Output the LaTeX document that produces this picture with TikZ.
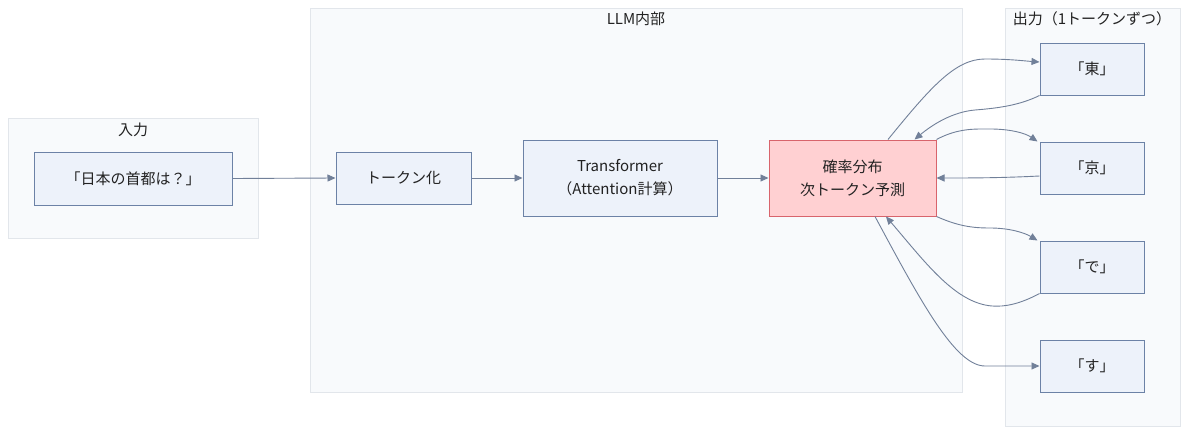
\documentclass[tikz,border=0pt]{standalone}
\usepackage{fontspec}
\setmainfont{Noto Sans CJK JP}
\usetikzlibrary{arrows.meta,calc}
\definecolor{clfill}{HTML}{F8FAFC}
\definecolor{cldraw}{HTML}{E2E6EB}
\definecolor{ndfill}{HTML}{EDF2FA}
\definecolor{nddraw}{HTML}{6C82A6}
\definecolor{pkfill}{HTML}{FFD0D2}
\definecolor{pkdraw}{HTML}{D8646C}
\definecolor{edgec}{HTML}{718099}
\definecolor{txt}{HTML}{222222}
\begin{document}
\begin{tikzpicture}[x=1pt,y=-1pt,
  cluster/.style={draw=cldraw,fill=clfill,line width=0.9pt},
  box/.style={draw=nddraw,fill=ndfill,line width=1pt,inner sep=0pt,anchor=center,text=txt,font=\fontsize{15}{23}\selectfont,align=center},
  probbox/.style={box,draw=pkdraw,fill=pkfill},
  lbl/.style={text=txt,font=\fontsize{15}{18}\selectfont,inner sep=0pt},
  conn/.style={draw=edgec,line width=0.9pt,-{Triangle[length=8pt,width=7pt]}}]
\useasboundingbox (0,0) rectangle (1200,439);
% clusters
\draw[cluster] (8,118) rectangle (258,238);
\node[lbl] (lin) at (133,130) {入力};
\draw[cluster] (310,8) rectangle (962,392);
\node[lbl] (lllm) at (636,19) {LLM内部};
\draw[cluster] (1005,8) rectangle (1180,426);
\node[lbl] (lout) at (1092,19) {出力（1トークンずつ）};
% nodes
\node[box,minimum width=198pt,minimum height=53pt] (inp) at (133,178.5) {「日本の首都は？」};
\node[box,minimum width=135pt,minimum height=52pt] (tok) at (403.5,178) {トークン化};
\node[box,minimum width=194pt,minimum height=76pt] (tr) at (620,178) {Transformer\\（Attention計算）};
\node[probbox,minimum width=167pt,minimum height=76pt] (prob) at (852.5,178) {確率分布\\次トークン予測};
\node[box,minimum width=104pt,minimum height=52pt] (dong) at (1092,69) {「東」};
\node[box,minimum width=104pt,minimum height=52pt] (jing) at (1092,168) {「京」};
\node[box,minimum width=104pt,minimum height=52pt] (de) at (1092,267) {「で」};
\node[box,minimum width=104pt,minimum height=52pt] (su) at (1092,366) {「す」};
% edges
\draw[conn] (inp.east) -- (tok.west);
\draw[conn] (tok.east) -- (tr.west);
\draw[conn] (tr.east) -- (prob.west);
\draw[conn] ($(prob.north)+(35.5,0)$) .. controls (930,88) and (955,59) .. (985,59) .. controls (1010,59) and (1025,61) .. ($(dong.west)+(0,-7)$);
\draw[conn] (dong.south west) .. controls (1020,105) and (1000,108) .. (975,110) .. controls (952,112) and (932,125) .. ($(prob.north)+(62,0)$);
\draw[conn] (prob.north east) .. controls (958,128) and (975,129) .. (990,129) .. controls (1010,129) and (1025,133) .. ($(jing.north west)+(-2,0)$);
\draw[conn] ($(jing.west)+(0,8)$) .. controls (1000,178) and (970,178) .. (prob.east);
\draw[conn] (prob.south east) .. controls (958,226) and (972,228) .. (990,228) .. controls (1010,228) and (1025,233) .. ($(de.north west)+(-2,0)$);
\draw[conn] (de.south west) .. controls (1020,304) and (1005,307) .. (992,306) .. controls (955,303) and (925,262) .. ($(prob.south)+(33.5,0)$);
\draw[conn] ($(prob.south)+(22.5,0)$) .. controls (920,300) and (955,366) .. (985,366) -- (su.west);
\end{tikzpicture}
\end{document}
